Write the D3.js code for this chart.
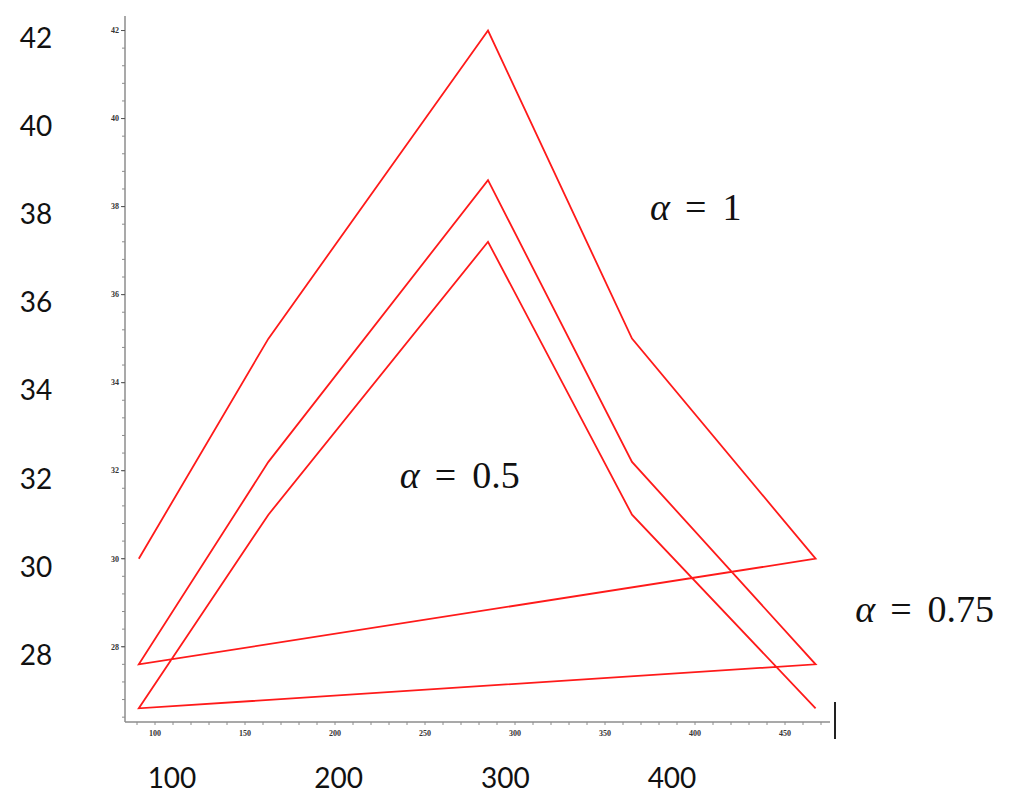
<!DOCTYPE html>
<html><head><meta charset="utf-8">
<script src="https://cdn.jsdelivr.net/npm/d3@7"></script>
<style>body{margin:0;background:#fff}svg{display:block}</style>
</head><body>
<svg id="c" width="1024" height="801"></svg>
<script>
// data
const xValues = [91, 163, 285, 365, 467];
const seriesA1 = [30, 35, 42, 35, 30];        // alpha = 1
const seriesA075 = [27.6, 32.2, 38.6, 32.2, 27.6]; // alpha = 0.75
const seriesA05 = [26.6, 31, 37.2, 31, 26.6];    // alpha = 0.5
const yMajorTicks = [28, 30, 32, 34, 36, 38, 40, 42];
const xMajorTicks = [100, 150, 200, 250, 300, 350, 400, 450];
const bigYLabels = ["42", "40", "38", "36", "34", "32", "30", "28"];
const bigXLabels = ["100", "200", "300", "400"];
const annotations = [
  {name: "α", value: "1", x: 375, y: 38.0},
  {name: "α", value: "0.5", x: 236, y: 31.9},
  {name: "α", value: "0.75", x: 489, y: 28.87}
];

const svg = d3.select("#c");
const x = d3.scaleLinear().domain([83.33, 475]).range([125, 830]);
const y = d3.scaleLinear().domain([26.29, 42.33]).range([722, 16]);

// continuous polyline through all three series
const pts = [];
[seriesA1, seriesA075, seriesA05].forEach(s => s.forEach((v, i) => pts.push([xValues[i], v])));

const axisColor = "#8c8c8c";
// y axis
const yAxis = svg.append("g").attr("transform", "translate(125,0)");
yAxis.append("line").attr("y1", y.range()[1]).attr("y2", y.range()[0]).attr("stroke", axisColor).attr("stroke-width", 1.5);
const yMinor = d3.range(26.4, 42.3, 0.4);
yAxis.selectAll("line.mn").data(yMinor).join("line").attr("class", "mn")
  .attr("x1", -3).attr("x2", 0).attr("y1", d => y(d)).attr("y2", d => y(d)).attr("stroke", axisColor);
yAxis.selectAll("line.mj").data(yMajorTicks).join("line").attr("class", "mj")
  .attr("x1", -4).attr("x2", 0).attr("y1", d => y(d)).attr("y2", d => y(d)).attr("stroke", "#555");
yAxis.selectAll("text").data(yMajorTicks).join("text")
  .attr("x", -6).attr("y", d => y(d)).attr("dy", "0.35em").attr("text-anchor", "end")
  .attr("font-family", "Liberation Serif").attr("font-size", 8).attr("font-weight", "bold").attr("fill", "#333")
  .text(d => d);

// x axis
const xAxis = svg.append("g").attr("transform", "translate(0,722)");
xAxis.append("line").attr("x1", x.range()[0]).attr("x2", x.range()[1]).attr("stroke", axisColor).attr("stroke-width", 1.5);
const xMinor = d3.range(90, 475, 10);
xAxis.selectAll("line.mn").data(xMinor).join("line").attr("class", "mn")
  .attr("x1", d => x(d)).attr("x2", d => x(d)).attr("y1", 0).attr("y2", 3).attr("stroke", axisColor);
xAxis.selectAll("text").data(xMajorTicks).join("text")
  .attr("x", d => x(d)).attr("y", 14).attr("text-anchor", "middle")
  .attr("font-family", "Liberation Serif").attr("font-size", 8).attr("font-weight", "bold").attr("fill", "#333")
  .text(d => d);

// the line
svg.append("path").datum(pts)
  .attr("d", d3.line().x(d => x(d[0])).y(d => y(d[1])))
  .attr("fill", "none").attr("stroke", "#ff1a1a").attr("stroke-width", 1.8).attr("stroke-linejoin", "miter");

// big overlay labels
const bigY = d3.scaleLinear().domain([42, 28]).range([38, 655]);
svg.append("g").selectAll("text").data(bigYLabels).join("text")
  .attr("x", 36).attr("y", d => bigY(+d)).attr("dy", "0.35em").attr("text-anchor", "middle")
  .attr("font-family", "Lato").attr("font-size", 28).attr("fill", "#111").text(d => d);
const bigX = d3.scaleLinear().domain([100, 400]).range([172, 672]);
svg.append("g").selectAll("text").data(bigXLabels).join("text")
  .attr("x", d => bigX(+d)).attr("y", 778).attr("dy", "0.35em").attr("text-anchor", "middle")
  .attr("font-family", "Lato").attr("font-size", 28).attr("fill", "#111").text(d => d);

// alpha annotations
const ann = svg.append("g").selectAll("text").data(annotations).join("text")
  .attr("x", d => x(d.x)).attr("y", d => y(d.y)).attr("dy", "0.35em")
  .attr("font-family", "Liberation Serif").attr("font-size", 38).attr("fill", "#111");
ann.append("tspan").attr("font-style", "italic").text(d => d.name);
ann.append("tspan").attr("dx", 15).text("=");
ann.append("tspan").attr("dx", 16).text(d => d.value);

// black end marker
svg.append("line").attr("x1", 835).attr("x2", 835).attr("y1", 702).attr("y2", 739)
  .attr("stroke", "#222").attr("stroke-width", 2);
</script>
</body></html>
